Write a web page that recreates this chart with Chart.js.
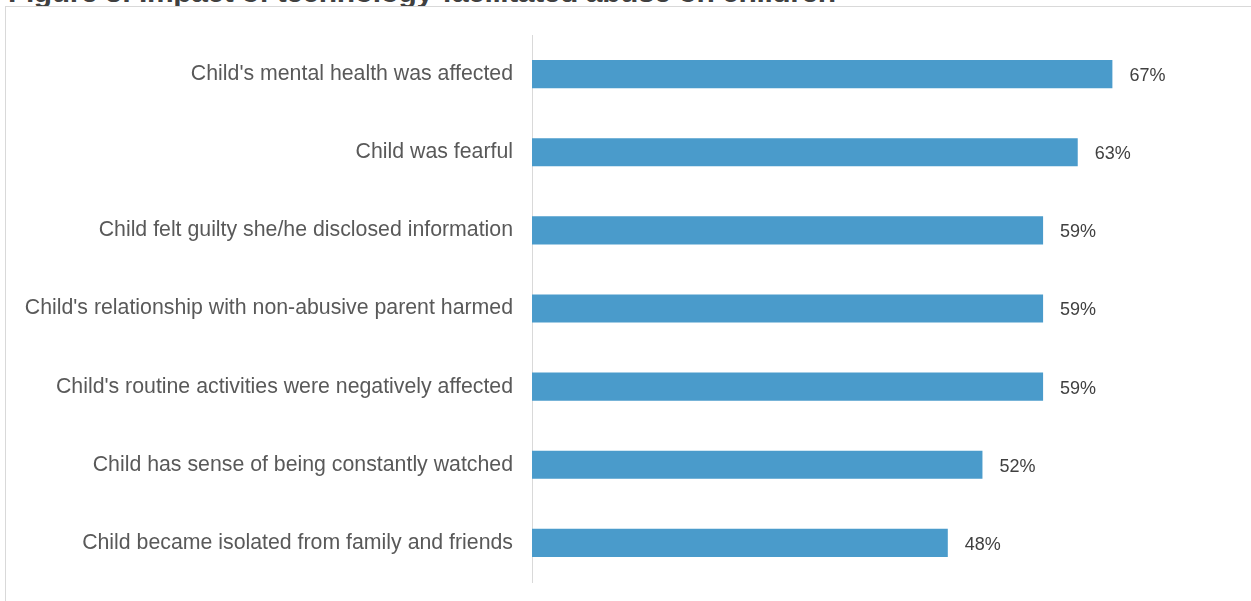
<!DOCTYPE html>
<html>
<head>
<meta charset="utf-8">
<script src="https://cdn.jsdelivr.net/npm/chart.js@4/dist/chart.umd.min.js"></script>
<style>
  html, body { margin: 0; padding: 0; background: #ffffff; overflow: hidden; }
  #wrap { position: relative; width: 1251px; height: 601px; overflow: hidden; }
  #title { position: absolute; left: 8px; top: -23px; font-family: "Liberation Sans", Arial, sans-serif; font-weight: bold; font-size: 30px; line-height: 30px; letter-spacing: -0.4px; color: #404040; white-space: nowrap; }
  #frame { position: absolute; left: 5px; top: 6px; width: 1400px; height: 700px; border: 1px solid #d9d9d9; box-sizing: border-box; background: #ffffff; }
  #c { position: absolute; left: 0; top: 0; }
</style>
</head>
<body>
<div id="wrap">
  <div id="title">Figure 3: Impact of technology-facilitated abuse on children</div>
  <div id="frame"></div>
  <canvas id="c" width="1251" height="601"></canvas>
</div>
<script>
const categories = [
  "Child's mental health was affected",
  "Child was fearful",
  "Child felt guilty she/he disclosed information",
  "Child's relationship with non-abusive parent harmed",
  "Child's routine activities were negatively affected",
  "Child has sense of being constantly watched",
  "Child became isolated from family and friends"
];
const values = [67, 63, 59, 59, 59, 52, 48];
const valueLabels = ["67%", "63%", "59%", "59%", "59%", "52%", "48%"];

const FONT = '"Liberation Sans", Arial, sans-serif';

const valueLabelPlugin = {
  id: 'valueLabels',
  afterDatasetsDraw(chart) {
    const ctx = chart.ctx;
    const meta = chart.getDatasetMeta(0);
    ctx.save();
    ctx.font = '18px ' + FONT;
    ctx.fillStyle = '#404040';
    ctx.textAlign = 'left';
    ctx.textBaseline = 'middle';
    meta.data.forEach((bar, i) => {
      ctx.fillText(valueLabels[i], bar.x + 17, bar.y + 2);
    });
    ctx.restore();
  }
};

new Chart(document.getElementById('c'), {
  type: 'bar',
  data: {
    labels: categories,
    datasets: [{
      data: values,
      backgroundColor: '#4a9bcb',
      borderWidth: 0,
      categoryPercentage: 1,
      barPercentage: 0.36
    }]
  },
  options: {
    indexAxis: 'y',
    responsive: false,
    animation: false,
    devicePixelRatio: 1,
    layout: { padding: { left: 0, top: 35, right: 26, bottom: 19 } },
    plugins: { legend: { display: false }, tooltip: { enabled: false } },
    scales: {
      x: {
        display: false,
        min: 0,
        max: 80
      },
      y: {
        afterFit(scale) {
          scale.width = 532;
          scale.paddingTop = 0;
          scale.paddingBottom = 0;
        },
        grid: { display: false, drawTicks: false },
        border: { display: true, color: '#d9d9d9', width: 1 },
        ticks: {
          padding: 19,
          color: '#595959',
          font: { family: FONT, size: 21.3 }
        }
      }
    }
  },
  plugins: [valueLabelPlugin]
});
</script>
</body>
</html>
